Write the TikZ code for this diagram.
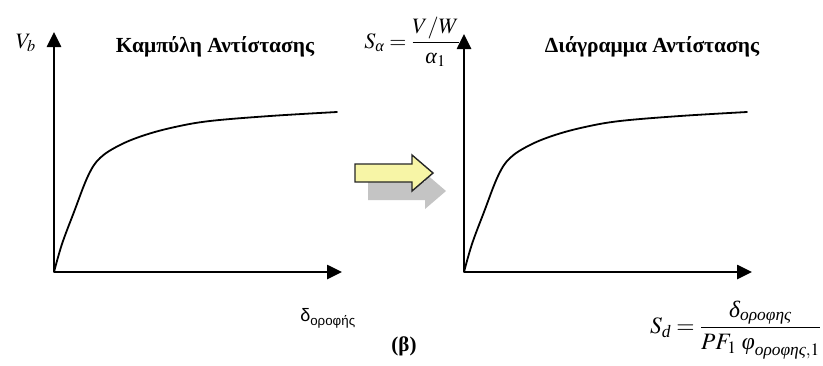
\documentclass[tikz,border=0pt]{standalone}
\usepackage{amsmath}
\usepackage{mathptmx}
\usepackage[no-math]{fontspec}
\setmainfont{Liberation Serif}
\newfontfamily\rsSans{Liberation Sans}
\usetikzlibrary{arrows.meta}
\newcommand{\gr}[1]{\text{\itshape #1}}
\definecolor{rsYellow}{RGB}{247,245,166}
\definecolor{rsShadow}{RGB}{196,196,196}
\begin{document}
\begin{tikzpicture}[
    x=1pt, y=-1pt,
    rsAxis/.style={line width=2.6pt, -{Triangle[length=15pt,width=14pt]}},
    rsCurve/.style={line width=1.8pt, line cap=round},
    rsTitle/.style={font=\fontsize{21.5}{24}\selectfont\bfseries, inner sep=0pt},
    rsLabel/.style={font=\fontsize{22}{25}\selectfont, inner sep=0pt}
]
\fill[white] (0,0) rectangle (823,365);
\useasboundingbox (0,0) rectangle (823,365);

% left diagram: capacity curve
\coordinate (oL) at (54,272);
\coordinate (yL) at (54,32);
\coordinate (xL) at (342,272);
\draw[rsAxis] (oL) -- (yL);
\draw[rsAxis] (oL) -- (xL);
\draw[rsCurve] plot[smooth, tension=0.6] coordinates {(54,272) (62,244) (74,212) (88,176) (100,158) (120,145) (145,135) (175,127) (210,121) (270,116) (337,112)};
\node[rsLabel, anchor=east] (vb) at (36,43) {$V_b$};
\node[rsTitle] (titleL) at (215,47) {Καμπύλη Αντίστασης};
\node[rsLabel, font=\fontsize{18}{21}\selectfont\rsSans] (dL) at (328,318) {δ\textsubscript{οροφής}};
\node[rsLabel, font=\fontsize{21}{24}\selectfont\bfseries] (beta) at (404,346) {(β)};

% conversion arrow
\fill[rsShadow] (368,182) -- (425,182) -- (425,173) -- (446,191) -- (425,209) -- (425,200) -- (368,200) -- cycle;
\draw[line width=1.4pt, black!85, fill=rsYellow, line join=miter]
    (355,164) -- (412,164) -- (412,155) -- (433,173) -- (412,191) -- (412,182) -- (355,182) -- cycle;

% right diagram: capacity spectrum
\coordinate (oR) at (464,272);
\coordinate (yR) at (464,34);
\coordinate (xR) at (752,272);
\draw[rsAxis] (oR) -- (yR);
\draw[rsAxis] (oR) -- (xR);
\draw[rsCurve] plot[smooth, tension=0.6] coordinates {(464,272) (472,244) (484,212) (498,176) (510,158) (530,145) (555,135) (585,127) (620,121) (680,116) (747,112)};
\node[rsTitle] (titleR) at (652,47) {Διάγραμμα Αντίστασης};
\node[rsLabel, anchor=east] (sa) at (460,42) {$S_{\gr{α}} = \dfrac{V/W}{\gr{α}_1}$};
\node[rsLabel, font=\fontsize{23.5}{27}\selectfont, anchor=west] (sd) at (650,330) {$S_{\gr{d}} = \dfrac{\gr{δ}_{\gr{οροφης}}}{PF_1\;\gr{φ}_{\gr{οροφης},1}}$};
\end{tikzpicture}
\end{document}
